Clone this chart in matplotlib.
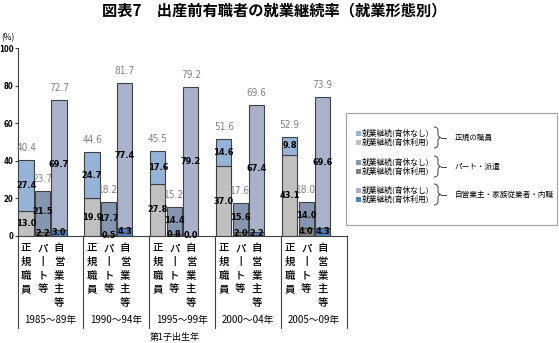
import matplotlib
matplotlib.use("Agg")
import matplotlib.pyplot as plt
from matplotlib.path import Path
from matplotlib.patches import PathPatch, Rectangle
import numpy as np

plt.rcParams['font.family'] = ['Noto Sans CJK JP', 'DejaVu Sans']
NUM_KW = dict(family='DejaVu Sans', fontstretch='condensed')

# data
periods = ['1985～89年', '1990～94年', '1995～99年', '2000～04年', '2005～09年']
types = ['正規職員', 'パート等', '自営業主等']
# 育休利用 (bottom) / 育休なし (top)
seiki_riyo = [13.0, 19.9, 27.8, 37.0, 43.1]
seiki_nashi = [27.4, 24.7, 17.6, 14.6, 9.8]
seiki_total = [40.4, 44.6, 45.5, 51.6, 52.9]
part_riyo = [2.2, 0.5, 0.8, 2.0, 4.0]
part_nashi = [21.5, 17.7, 14.4, 15.6, 14.0]
part_total = [23.7, 18.2, 15.2, 17.6, 18.0]
jiei_riyo = [3.0, 4.3, 0.0, 2.2, 4.3]
jiei_nashi = [69.7, 77.4, 79.2, 67.4, 69.6]
jiei_total = [72.7, 81.7, 79.2, 69.6, 73.9]

legend_labels = ['就業継続(育休なし)', '就業継続(育休利用)'] * 3
group_names = ['正規の職員', 'パート・派遣', '自営業主・家族従業者・内職']

col = {
    'seiki': ('#C0C0C0', '#95B3D7'),
    'part': ('#808080', '#8496B0'),
    'jiei': ('#4F81BD', '#A8B2CA'),
}

fig = plt.figure(figsize=(5.59, 3.43), dpi=100)
ax = fig.add_axes([17.5 / 559, 0.3128, 329.5 / 559, 0.546])

series = [
    ('seiki', seiki_riyo, seiki_nashi, seiki_total),
    ('part', part_riyo, part_nashi, part_total),
    ('jiei', jiei_riyo, jiei_nashi, jiei_total),
]
x_base = np.arange(len(periods)) * 4
W = 0.92
for j, (key, riyo, nashi, total) in enumerate(series):
    xs = x_base + j + 0.52
    c_riyo, c_nashi = col[key]
    ax.bar(xs, riyo, W, color=c_riyo, edgecolor='#404040', linewidth=0.8, zorder=3)
    ax.bar(xs, nashi, W, bottom=riyo, color=c_nashi, edgecolor='#404040', linewidth=0.8, zorder=3)
    for x, r, n, t in zip(xs, riyo, nashi, total):
        ax.text(x, r / 2, f'{r:.1f}', ha='center', va='center', fontsize=6.6,
                fontweight='bold', color='black', zorder=5, clip_on=False, **NUM_KW)
        ax.text(x, r + n / 2, f'{n:.1f}', ha='center', va='center', fontsize=6.6,
                fontweight='bold', color='black', zorder=5, **NUM_KW)
        ax.annotate(f'{t:.1f}', (x, t), xytext=(0, 5), textcoords='offset points',
                    ha='center', va='bottom', fontsize=7.2, color='#7F7F7F', **NUM_KW)

ax.set_xlim(0, 20)
ax.set_ylim(0, 100)
ax.set_yticks(range(0, 101, 20))
ax.set_xticks([])
for lab in ax.get_yticklabels():
    lab.set_family('DejaVu Sans')
    lab.set_fontstretch('condensed')
    lab.set_fontweight('bold')
    lab.set_fontsize(5.6)
ax.tick_params(axis='y', length=2.2, width=0.8, pad=0.8, color='#404040')
for s in ['top', 'right']:
    ax.spines[s].set_visible(False)
for s in ['left', 'bottom']:
    ax.spines[s].set_color('#404040')
    ax.spines[s].set_linewidth(0.8)
ax.text(-1.0, 106, '(%)', fontsize=6, ha='left', va='center', clip_on=False)

# category area below the axis
for xd in range(0, 21, 4):
    ax.plot([xd, xd], [0, -49.2], color='#404040', lw=0.8, clip_on=False)
char_step = 7.3
for g, xb in enumerate(x_base):
    for j, name in enumerate(types):
        chars = name.replace('ー', '丨')
        for k, ch in enumerate(chars):
            ax.text(xb + j + 0.52, -6.8 - k * char_step, ch, ha='center', va='center',
                    fontsize=7.5, fontweight='medium', clip_on=False)
    ax.text(xb + 2, -45.2, periods[g], ha='center', va='center', fontsize=7, clip_on=False)
fig.text(175 / 559, 1 - 337 / 343, '第1子出生年', ha='center', va='center', fontsize=6.5)

# title
fig.text(274 / 559, 1 - 10 / 343, '図表7　出産前有職者の就業継続率（就業形態別）',
         ha='center', va='center', fontsize=11, fontweight='bold')

# legend drawn in pixel space
ov = fig.add_axes([0, 0, 1, 1])
ov.set_xlim(0, 559)
ov.set_ylim(343, 0)
ov.axis('off')
ov.patch.set_alpha(0)
ov.add_patch(Rectangle((346, 113), 211, 112, fill=False, edgecolor='#A0A0A0', lw=0.8))
rows_y = [133, 142, 162, 171, 190, 199]
leg_colors = [col['seiki'][1], col['seiki'][0], col['part'][1], col['part'][0],
              col['jiei'][1], col['jiei'][0]]
for yy, c, lab in zip(rows_y, leg_colors, legend_labels):
    ov.add_patch(Rectangle((356, yy - 2.5), 5, 5, facecolor=c, edgecolor='none'))
    ov.text(362, yy, lab, fontsize=5.6, ha='left', va='center')


def brace(x, y0, y1):
    ym = (y0 + y1) / 2
    verts = [(x, y0), (x + 4, y0), (x + 4, y0 + 4),
             (x + 4, ym - 3),
             (x + 4, ym), (x + 7, ym),
             (x + 4, ym), (x + 4, ym + 3),
             (x + 4, y1 - 4),
             (x + 4, y1), (x, y1)]
    codes = [Path.MOVETO, Path.CURVE3, Path.CURVE3, Path.LINETO,
             Path.CURVE3, Path.CURVE3, Path.CURVE3, Path.CURVE3,
             Path.LINETO, Path.CURVE3, Path.CURVE3]
    ov.add_patch(PathPatch(Path(verts, codes), fill=False, edgecolor='#404040', lw=0.7))
    ov.plot([x + 7, x + 12], [ym, ym], color='#404040', lw=0.7)


for i, name in enumerate(group_names):
    y0, y1 = rows_y[2 * i] - 6, rows_y[2 * i + 1] + 6
    brace(434, y0, y1)
    ov.text(455, (y0 + y1) / 2, name, fontsize=5.5, ha='left', va='center')

plt.savefig('out.png', dpi=100)
